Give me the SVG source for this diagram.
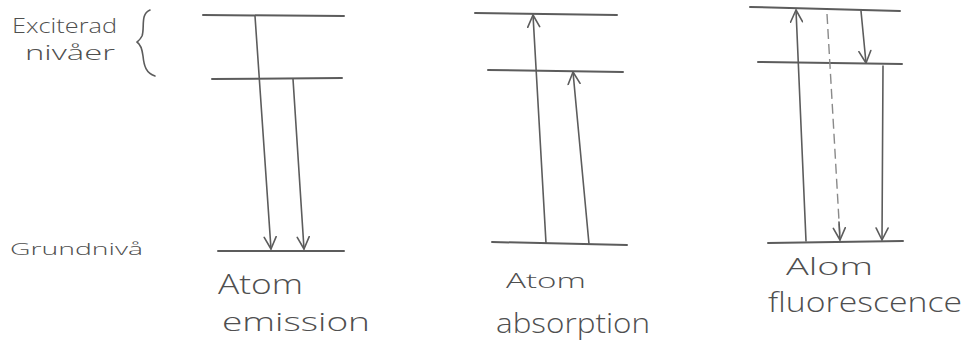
<svg xmlns="http://www.w3.org/2000/svg" width="969" height="342" viewBox="0 0 969 342">
<style>
.lvl{stroke:#5c5c5c;stroke-width:2;fill:none;stroke-linecap:round}
.arr{stroke:#5c5c5c;stroke-width:1.6;fill:none;stroke-linecap:round}
.dash{stroke:#8a8a8a;stroke-width:1.4;fill:none;stroke-dasharray:10 5}
.hw{font-family:"Open Sans","Liberation Sans",sans-serif;fill:#4f4f4f;font-weight:300}
</style>
<defs>
<marker id="ah" viewBox="0 0 14 14" refX="13" refY="7" markerWidth="14" markerHeight="14" markerUnits="userSpaceOnUse" orient="auto">
<path d="M1,1 L13,7 L1,13" fill="none" stroke="#5c5c5c" stroke-width="1.6" stroke-linecap="round" stroke-linejoin="round"/>
</marker>
</defs>
<rect width="969" height="342" fill="#ffffff"/>
<g id="legend">
<text class="hw" x="12" y="33" font-size="20" textLength="105" lengthAdjust="spacingAndGlyphs">Exciterad</text>
<text class="hw" x="25" y="60" font-size="21" textLength="90" lengthAdjust="spacingAndGlyphs">nivåer</text>
<path class="arr" d="M150,10 C140,14 145,28 142,36 C140,40 138,41 137,42 C140,44 142,48 143,56 C144,66 146,73 155,76"/>
<text class="hw" x="10" y="255" font-size="17" textLength="133" lengthAdjust="spacingAndGlyphs">Grundnivå</text>
</g>
<g id="emission">
<path class="lvl" d="M203,15 L344,16"/>
<path class="lvl" d="M212,79 L342,78"/>
<path class="lvl" d="M218,251 L344,251"/>
<text class="hw" x="218" y="294" font-size="28" textLength="85" lengthAdjust="spacingAndGlyphs">Atom</text>
<text class="hw" x="222" y="331" font-size="26" textLength="148" lengthAdjust="spacingAndGlyphs">emission</text>
</g>
<g id="absorption">
<path class="lvl" d="M475,13 L617,15"/>
<path class="lvl" d="M488,70 L623,72"/>
<path class="lvl" d="M492,242 L627,245"/>
<text class="hw" x="506" y="288" font-size="21" textLength="80" lengthAdjust="spacingAndGlyphs">Atom</text>
<text class="hw" x="496" y="333" font-size="27" textLength="154" lengthAdjust="spacingAndGlyphs">absorption</text>
</g>
<g id="fluorescence">
<path class="lvl" d="M750,7 L900,11"/>
<path class="lvl" d="M758,62 L902,64"/>
<path class="lvl" d="M768,243 L903,241"/>
<text class="hw" x="786" y="275" font-size="24" textLength="87" lengthAdjust="spacingAndGlyphs">Alom</text>
<text class="hw" x="768" y="312" font-size="27" textLength="194" lengthAdjust="spacingAndGlyphs">fluorescence</text>
</g>
<g id="connectors">
<path class="arr" d="M255,16 L271,249" marker-end="url(#ah)"/>
<path class="arr" d="M293,79 L304,249" marker-end="url(#ah)"/>
<path class="arr" d="M546,243 L533,15" marker-end="url(#ah)"/>
<path class="arr" d="M589,244 L573,72" marker-end="url(#ah)"/>
<path class="arr" d="M806,241 L796,10" marker-end="url(#ah)"/>
<path class="dash" d="M827,14 L840,238"/>
<path class="arr" d="M839,222 L840,240" marker-end="url(#ah)"/>
<path class="arr" d="M861,11 L866,63" marker-end="url(#ah)"/>
<path class="arr" d="M883,66 L882,240" marker-end="url(#ah)"/>
</g>
</svg>
